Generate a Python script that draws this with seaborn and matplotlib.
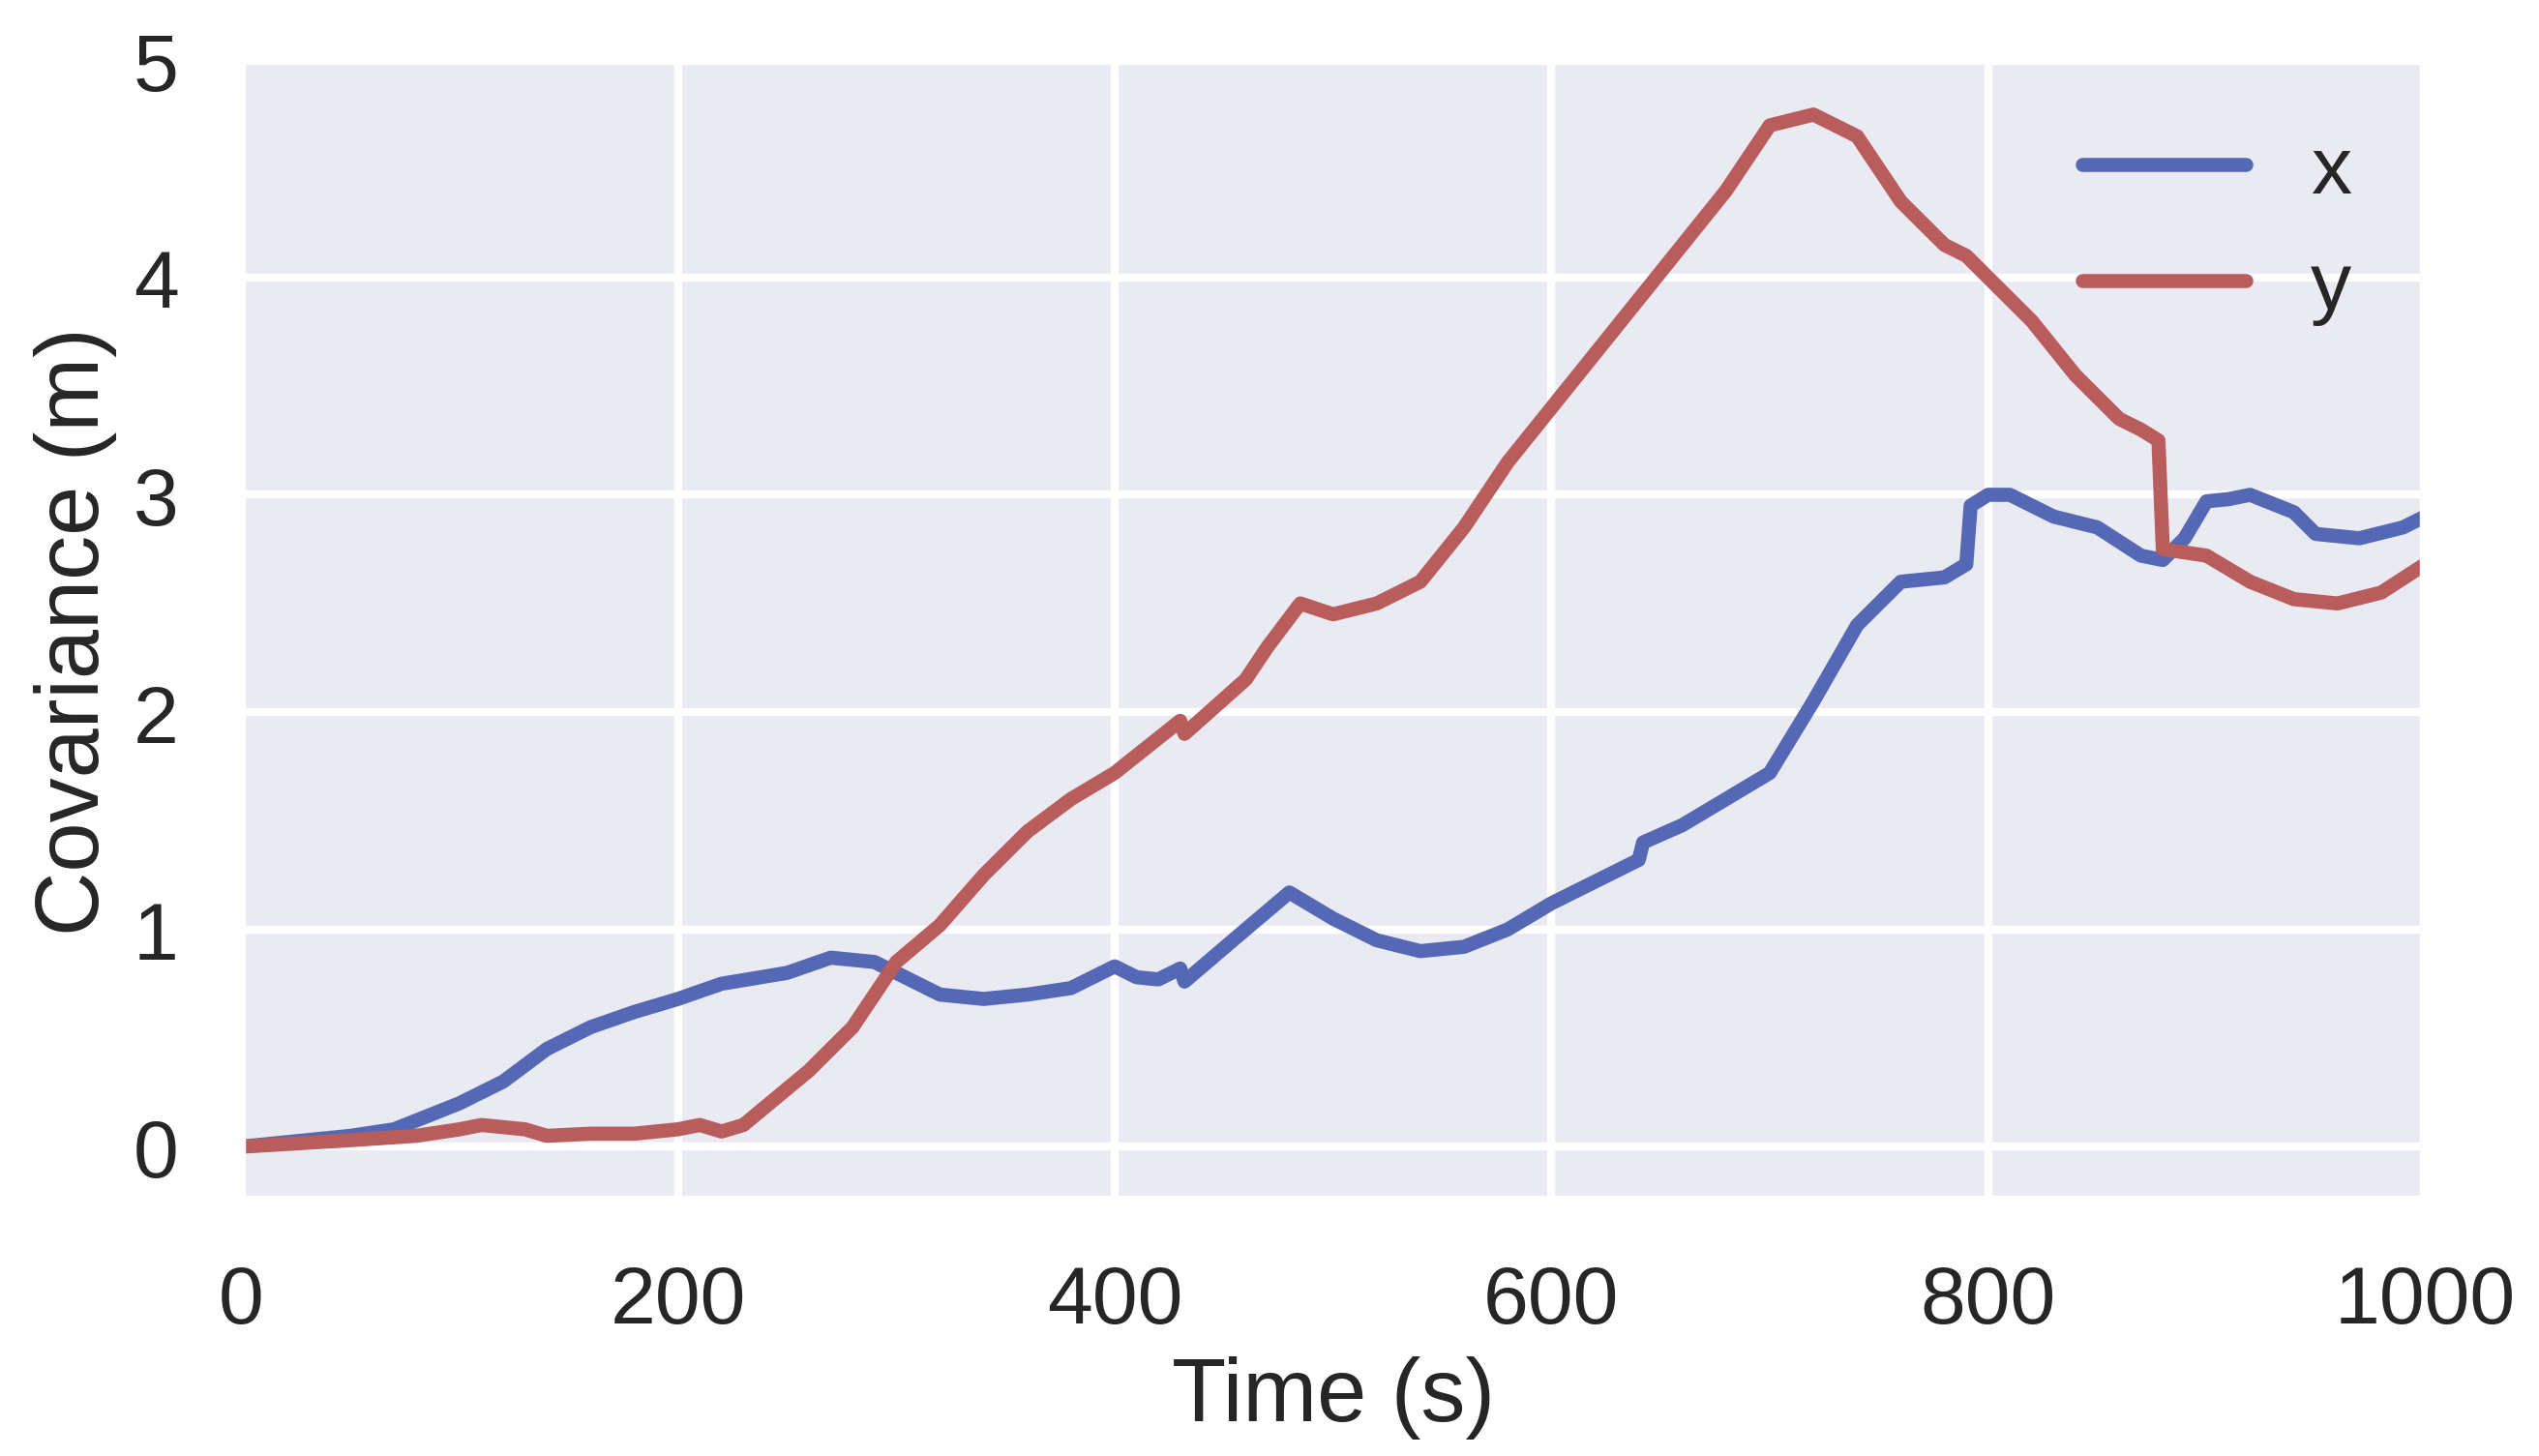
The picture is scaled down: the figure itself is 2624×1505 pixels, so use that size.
import matplotlib
matplotlib.use("Agg")
import matplotlib.pyplot as plt
import seaborn as sns
import pandas as pd

t_x = [0,50,70,100,120,140,160,180,200,220,250,270,290,300,320,340,360,380,400,410,420,430,432,460,480,500,520,540,560,580,600,620,640,642,660,680,700,720,740,760,780,790,792,800,810,830,850,870,880,890,900,910,920,940,950,970,990,1000]
v_x = [0,0.05,0.08,0.2,0.3,0.45,0.55,0.62,0.68,0.75,0.8,0.87,0.85,0.8,0.7,0.68,0.7,0.73,0.83,0.78,0.77,0.82,0.76,1.0,1.17,1.05,0.95,0.9,0.92,1.0,1.12,1.22,1.32,1.4,1.48,1.6,1.72,2.05,2.4,2.6,2.62,2.68,2.95,3.0,3.0,2.9,2.85,2.72,2.7,2.8,2.97,2.98,3.0,2.92,2.82,2.8,2.85,2.9]
t_y = [0,50,80,100,110,130,140,160,180,200,210,220,230,260,280,300,320,340,360,380,400,420,430,432,460,470,485,500,520,540,560,580,600,620,640,660,680,700,720,740,760,780,790,800,820,840,860,870,878,880,900,920,940,960,980,1000]
v_y = [0,0.03,0.05,0.08,0.1,0.08,0.05,0.06,0.06,0.08,0.1,0.07,0.1,0.35,0.55,0.85,1.02,1.25,1.45,1.6,1.72,1.88,1.96,1.9,2.15,2.3,2.5,2.45,2.5,2.6,2.85,3.15,3.4,3.65,3.9,4.15,4.4,4.7,4.75,4.65,4.35,4.15,4.1,4.0,3.8,3.55,3.35,3.3,3.25,2.75,2.72,2.6,2.52,2.5,2.55,2.68]

df = pd.concat([pd.DataFrame({"Time": t_x, "Cov": v_x, "s": "x"}),
                pd.DataFrame({"Time": t_y, "Cov": v_y, "s": "y"})])

sns.set_theme(style="darkgrid", context="poster", font_scale=0.92)
plt.rcParams['font.family'] = ['Liberation Sans', 'DejaVu Sans']
fig, ax = plt.subplots(figsize=(8.747, 5.02), dpi=300)
sns.lineplot(data=df, x="Time", y="Cov", hue="s", palette=["#5468B6", "#B85C5C"],
             linewidth=3.5, alpha=1.0, ax=ax, estimator=None, sort=False)
ax.set_xlim(0, 1000)
ax.set_ylim(-0.25, 5)
ax.set_xlabel("Time (s)")
ax.set_ylabel("Covariance (m)")
leg = ax.legend(loc="upper right", frameon=False, title=None)
fig.subplots_adjust(left=0.095, right=0.955, top=0.958, bottom=0.175)
fig.savefig("out.png", dpi=300)
